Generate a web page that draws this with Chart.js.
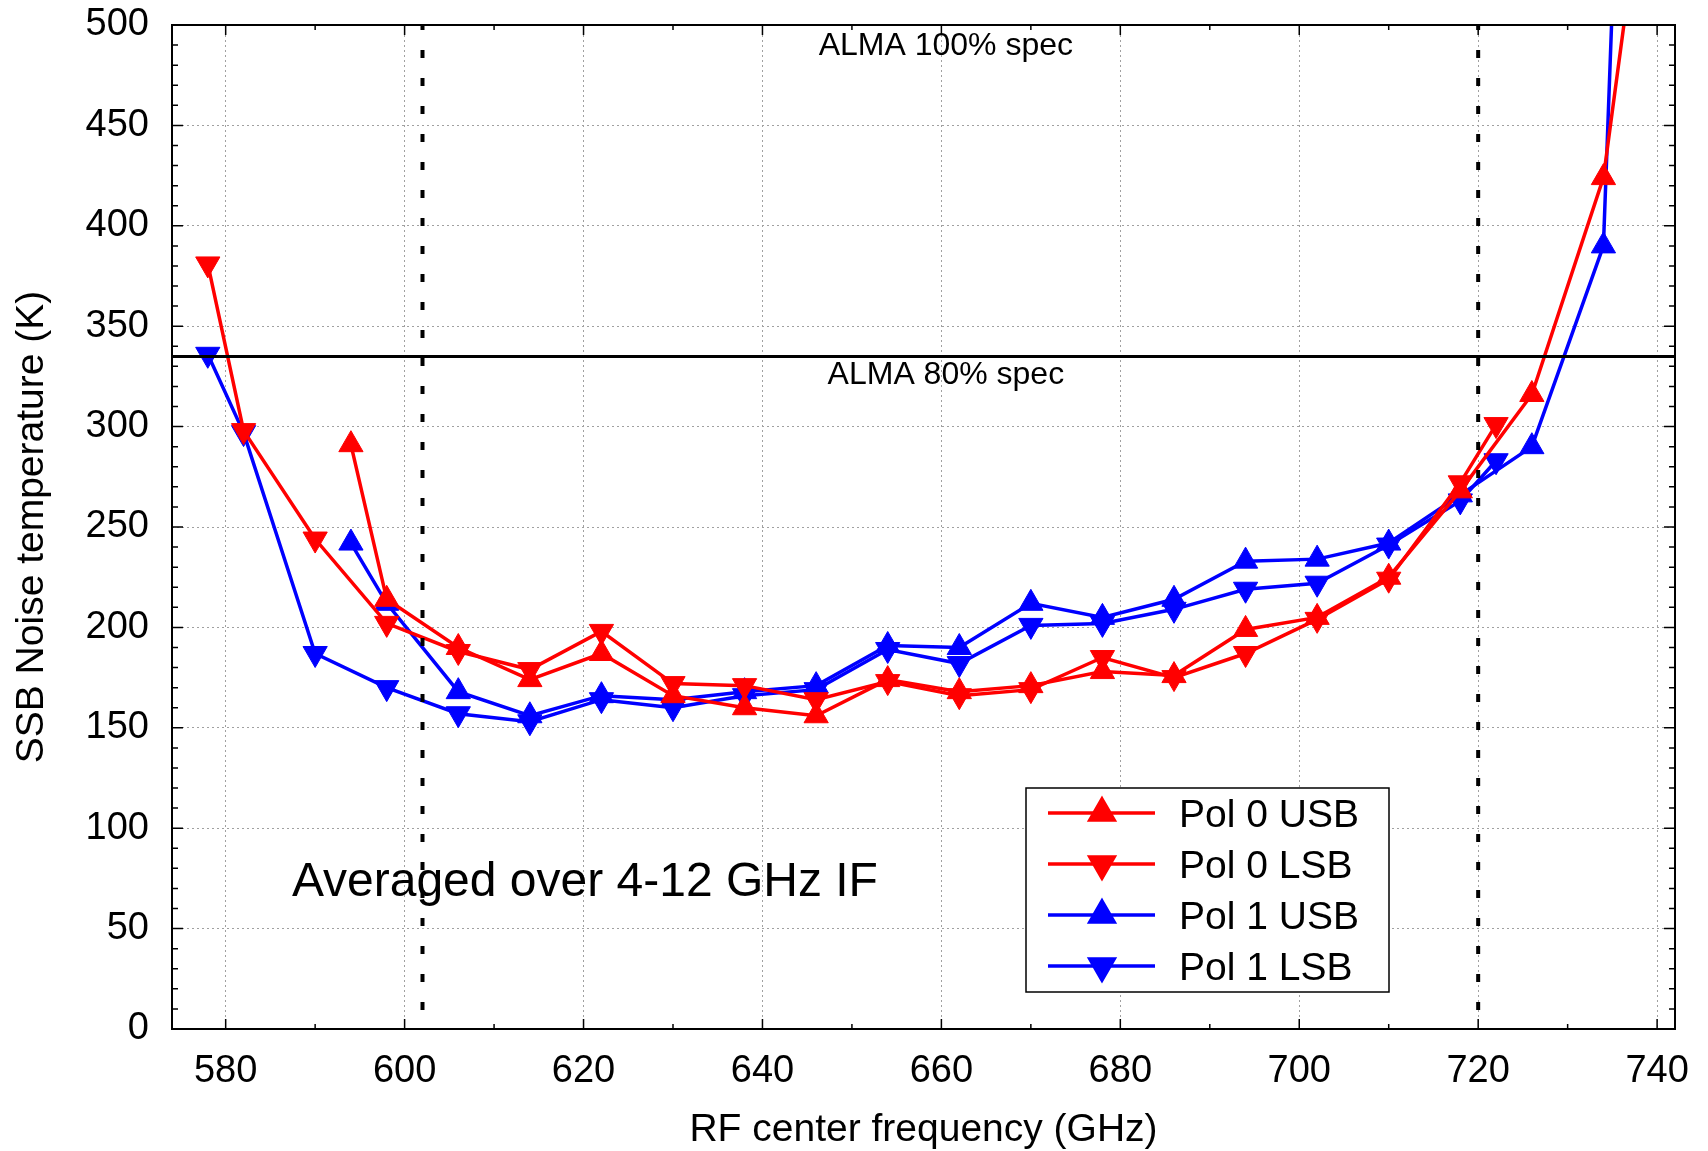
<!DOCTYPE html>
<html>
<head>
<meta charset="utf-8">
<script src="https://cdn.jsdelivr.net/npm/chart.js@4.4.1/dist/chart.umd.min.js"></script>
<style>
  html, body { margin: 0; padding: 0; background: #fff; }
  #wrap { width: 1708px; height: 1151px; position: relative; }
</style>
</head>
<body>
<div id="wrap"><canvas id="noiseGraph"></canvas></div>
<script>
// RF centre frequencies (GHz) and SSB noise temperatures (K)
const usbFreq = [594, 598, 606, 614, 622, 630, 638, 646, 654, 662, 670, 678, 686, 694, 702, 710, 718, 726, 734, 742];
const lsbFreq = [578, 582, 590, 598, 606, 614, 622, 630, 638, 646, 654, 662, 670, 678, 686, 694, 702, 710, 718, 722];

const pol0Usb = [291, 214, 190, 174, 187, 166, 160, 156, 174, 168, 171, 178, 176, 199, 205, 225, 268, 316, 424, 690];
const pol0Lsb = [381, 298, 244, 202, 188, 179, 198, 172, 171, 164, 173, 166, 169, 185, 175, 187, 204, 224, 272, 301];
const pol1Usb = [242, 212, 168, 156, 166, 164, 168, 171, 191, 190, 212, 205, 214, 233, 234, 242, 266, 290, 390, 1360];
const pol1Lsb = [336, 297, 187, 170, 157, 153, 164, 160, 166, 169, 189, 182, 201, 202, 209, 219, 222, 241, 263, 283];

const xTickValues = [580, 600, 620, 640, 660, 680, 700, 720, 740];
const yTickValues = [0, 50, 100, 150, 200, 250, 300, 350, 400, 450, 500];

const specLevel = 335;          // ALMA 80% spec
const bandEdges = [602, 720];   // band 9 RF range

const FONT = '"Liberation Sans", Arial, sans-serif';
const RED = '#ff0000';
const BLUE = '#0000ff';

function toPoints(xs, ys) {
  return xs.map((x, i) => ({x: x, y: ys[i]}));
}

function makeSet(label, xs, ys, color, down) {
  return {
    label: label,
    data: toPoints(xs, ys),
    borderColor: color,
    backgroundColor: color,
    borderWidth: 3.5,
    pointStyle: 'triangle',
    pointRotation: down ? 180 : 0,
    pointRadius: 14,
    pointBorderWidth: 1,
    tension: 0,
    fill: false
  };
}

const overlayPlugin = {
  id: 'overlay',
  afterDatasetsDraw(chart) {
    const {ctx, chartArea: a, scales: {x, y}} = chart;
    ctx.save();

    // spec line
    ctx.strokeStyle = '#000';
    ctx.lineWidth = 3;
    const ySpec = Math.round(y.getPixelForValue(specLevel)) + 0.5;
    ctx.beginPath();
    ctx.moveTo(a.left, ySpec);
    ctx.lineTo(a.right, ySpec);
    ctx.stroke();

    // band edges
    ctx.lineWidth = 4;
    ctx.setLineDash([8, 20]);
    ctx.lineDashOffset = 3;
    bandEdges.forEach(f => {
      const px = x.getPixelForValue(f);
      ctx.beginPath();
      ctx.moveTo(px, a.top);
      ctx.lineTo(px, a.bottom);
      ctx.stroke();
    });
    ctx.setLineDash([]);

    // frame
    ctx.lineWidth = 2;
    ctx.strokeRect(a.left, a.top, a.right - a.left, a.bottom - a.top);

    // inward ticks on all sides
    ctx.lineWidth = 1.5;
    ctx.beginPath();
    for (let v = 0; v <= 500; v += 10) {
      const len = v % 50 === 0 ? 11 : 6;
      const py = y.getPixelForValue(v);
      ctx.moveTo(a.left, py); ctx.lineTo(a.left + len, py);
      ctx.moveTo(a.right, py); ctx.lineTo(a.right - len, py);
    }
    for (let f = 580; f <= 740; f += 10) {
      const len = f % 20 === 0 ? 10 : 5;
      const px = x.getPixelForValue(f);
      ctx.moveTo(px, a.bottom); ctx.lineTo(px, a.bottom - len);
      ctx.moveTo(px, a.top); ctx.lineTo(px, a.top + len);
    }
    ctx.stroke();

    // labels
    ctx.fillStyle = '#000';
    ctx.textBaseline = 'alphabetic';
    ctx.textAlign = 'center';
    ctx.font = '32px ' + FONT;
    ctx.fillText('ALMA 100% spec', x.getPixelForValue(660.5), y.getPixelForValue(485));
    ctx.fillText('ALMA 80% spec', x.getPixelForValue(660.5), y.getPixelForValue(321));
    ctx.textAlign = 'left';
    ctx.font = '48px ' + FONT;
    ctx.fillText('Averaged over 4-12 GHz IF', x.getPixelForValue(587.4), y.getPixelForValue(66));

    // legend
    const box = {left: 1026, top: 788, right: 1389, bottom: 992};
    ctx.fillStyle = '#fff';
    ctx.fillRect(box.left, box.top, box.right - box.left, box.bottom - box.top);
    ctx.strokeStyle = '#000';
    ctx.lineWidth = 1.5;
    ctx.strokeRect(box.left, box.top, box.right - box.left, box.bottom - box.top);
    ctx.font = '39px ' + FONT;
    chart.data.datasets.forEach((ds, i) => {
      const ly = 813 + i * 51;
      ctx.strokeStyle = ds.borderColor;
      ctx.fillStyle = ds.borderColor;
      ctx.lineWidth = 3.5;
      ctx.beginPath();
      ctx.moveTo(1048, ly);
      ctx.lineTo(1155, ly);
      ctx.stroke();
      Chart.helpers.drawPoint(ctx, {
        pointStyle: 'triangle', radius: 14, rotation: ds.pointRotation, borderWidth: 1
      }, 1102, ly);
      ctx.fillStyle = '#000';
      ctx.fillText(ds.label, 1179, ly + 14);
    });

    ctx.restore();
  }
};

const noiseGraph = new Chart(document.getElementById('noiseGraph').getContext('2d'), {
  type: 'line',
  data: {
    datasets: [
      makeSet('Pol 0 USB', usbFreq, pol0Usb, RED, false),
      makeSet('Pol 0 LSB', lsbFreq, pol0Lsb, RED, true),
      makeSet('Pol 1 USB', usbFreq, pol1Usb, BLUE, false),
      makeSet('Pol 1 LSB', lsbFreq, pol1Lsb, BLUE, true)
    ]
  },
  options: {
    animation: false,
    responsive: true,
    maintainAspectRatio: false,
    events: [],
    layout: { padding: { top: 25, right: 33, left: 0, bottom: 0 } },
    plugins: {
      legend: { display: false },
      tooltip: { enabled: false }
    },
    scales: {
      x: {
        type: 'linear',
        min: 574,
        max: 742,
        afterBuildTicks: s => { s.ticks = xTickValues.map(v => ({value: v})); },
        afterFit: s => { s.height = 122; s.paddingLeft = 0; s.paddingRight = 0; },
        grid: { color: '#a0a0a0', lineWidth: 1, drawTicks: false },
        border: { display: false, dash: [2, 3] },
        ticks: {
          color: '#000',
          font: { family: FONT, size: 38 },
          padding: 20,
          maxRotation: 0,
          autoSkip: false
        },
        title: {
          display: true,
          text: 'RF center frequency (GHz)',
          color: '#000',
          font: { family: FONT, size: 39, lineHeight: 1.05 },
          padding: 0
        }
      },
      y: {
        type: 'linear',
        min: 0,
        max: 500,
        afterBuildTicks: s => { s.ticks = yTickValues.map(v => ({value: v})); },
        afterFit: s => { s.width = 172; s.paddingTop = 0; s.paddingBottom = 0; },
        grid: { color: '#a0a0a0', lineWidth: 1, drawTicks: false },
        border: { display: false, dash: [2, 3] },
        ticks: {
          color: '#000',
          font: { family: FONT, size: 38 },
          padding: 23
        },
        title: {
          display: true,
          text: 'SSB Noise temperature (K)',
          color: '#000',
          font: { family: FONT, size: 39 },
          padding: { top: 9, bottom: 0 }
        }
      }
    }
  },
  plugins: [overlayPlugin]
});
</script>
</body>
</html>
